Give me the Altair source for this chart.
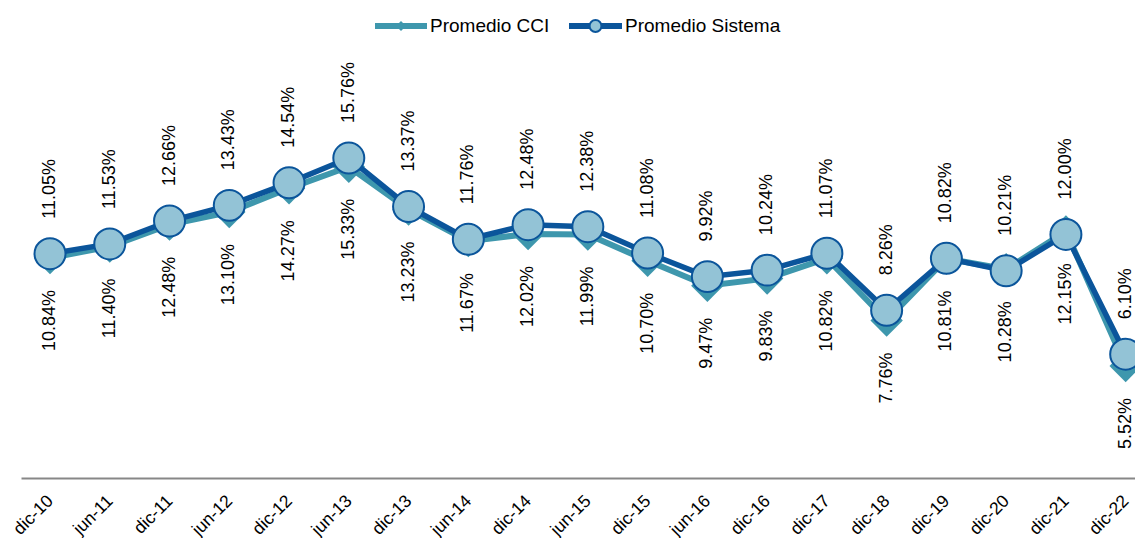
import json
import altair as alt
import pandas as pd

categories = ["dic-10", "jun-11", "dic-11", "jun-12", "dic-12", "jun-13", "dic-13",
              "jun-14", "dic-14", "jun-15", "dic-15", "jun-16", "dic-16", "dic-17",
              "dic-18", "dic-19", "dic-20", "dic-21", "dic-22"]
promedio_cci = [10.84, 11.40, 12.48, 13.10, 14.27, 15.33, 13.23, 11.67, 12.02, 11.99,
                10.70, 9.47, 9.83, 10.82, 7.76, 10.81, 10.28, 12.15, 5.52]
promedio_sistema = [11.05, 11.53, 12.66, 13.43, 14.54, 15.76, 13.37, 11.76, 12.48, 12.38,
                    11.08, 9.92, 10.24, 11.07, 8.26, 10.82, 10.21, 12.00, 6.10]
series_names = ["Promedio CCI", "Promedio Sistema"]

C_CCI = "#3e97ad"
C_SIS = "#0b559b"
C_FILL = "#93c3d6"
FONT = "Liberation Sans"

n = len(categories)
df = pd.DataFrame({
    "idx": list(range(n)),
    "cat": categories,
    "cci": promedio_cci,
    "sis": promedio_sistema,
})
df["cci_lbl"] = [f"{v:.2f}%" for v in promedio_cci]
df["sis_lbl"] = [f"{v:.2f}%" for v in promedio_sistema]

label_expr = json.dumps(categories) + "[datum.value]"
x_enc = alt.X(
    "idx:Q",
    scale=alt.Scale(domain=[-0.4853, 18.156], nice=False, zero=False),
    axis=alt.Axis(
        values=list(range(n)), labelExpr=label_expr, title=None, ticks=False,
        grid=False, labelAngle=-45, labelAlign="right", labelBaseline="middle",
        labelPadding=20, labelFont=FONT, labelFontSize=17.5, labelColor="#000000",
        domainColor="#878787", domainWidth=2, labelOverlap=False,
    ),
)
y_scale = alt.Scale(domain=[0, 20], nice=False, zero=True)

base = alt.Chart(df)

line_cci = base.mark_line(color=C_CCI, strokeWidth=6).encode(
    x=x_enc, y=alt.Y("cci:Q", scale=y_scale, axis=None))
pt_cci = base.mark_point(shape="diamond", filled=True, color=C_CCI, size=1050, opacity=1).encode(
    x=x_enc, y=alt.Y("cci:Q", scale=y_scale, axis=None))
line_sis = base.mark_line(color=C_SIS, strokeWidth=5.5).encode(
    x=x_enc, y=alt.Y("sis:Q", scale=y_scale, axis=None))
pt_sis = base.mark_point(shape="circle", filled=True, fill=C_FILL, stroke=C_SIS,
                         strokeWidth=2, size=960, opacity=1).encode(
    x=x_enc, y=alt.Y("sis:Q", scale=y_scale, axis=None))

txt_sis = base.mark_text(angle=270, align="left", baseline="middle", dx=35,
                         font=FONT, fontSize=18, color="#000000").encode(
    x=x_enc, y=alt.Y("sis:Q", scale=y_scale, axis=None), text="sis_lbl:N")
txt_cci = base.mark_text(angle=270, align="right", baseline="middle", dx=-32,
                         font=FONT, fontSize=18, color="#000000").encode(
    x=x_enc, y=alt.Y("cci:Q", scale=y_scale, axis=None), text="cci_lbl:N")

# manual legend
leg_df = pd.DataFrame({"name": series_names})
leg_cci = leg_df.iloc[[0]]
leg_sis = leg_df.iloc[[1]]
LY = -46
leg_line_cci = alt.Chart(leg_cci).mark_rule(color=C_CCI, strokeWidth=6).encode(
    x=alt.value(354), x2=alt.value(406), y=alt.value(LY))
leg_pt_cci = alt.Chart(leg_cci).mark_point(shape="diamond", filled=True, color=C_CCI,
                                           size=100, opacity=1).encode(
    x=alt.value(380), y=alt.value(LY))
leg_txt_cci = alt.Chart(leg_cci).mark_text(align="left", baseline="middle", font=FONT,
                                           fontSize=19, color="#000000").encode(
    x=alt.value(409), y=alt.value(LY), text="name:N")
leg_line_sis = alt.Chart(leg_sis).mark_rule(color=C_SIS, strokeWidth=6).encode(
    x=alt.value(548), x2=alt.value(601), y=alt.value(LY))
leg_pt_sis = alt.Chart(leg_sis).mark_point(shape="circle", filled=True, fill=C_FILL,
                                           stroke=C_SIS, strokeWidth=2, size=140,
                                           opacity=1).encode(
    x=alt.value(574.5), y=alt.value(LY))
leg_txt_sis = alt.Chart(leg_sis).mark_text(align="left", baseline="middle", font=FONT,
                                           fontSize=19, color="#000000").encode(
    x=alt.value(604), y=alt.value(LY), text="name:N")

chart = alt.layer(
    line_cci, pt_cci, line_sis, pt_sis, txt_sis, txt_cci,
    leg_line_cci, leg_pt_cci, leg_txt_cci, leg_line_sis, leg_pt_sis, leg_txt_sis,
).properties(
    width=1114, height=406,
    padding={"left": 13, "top": 64, "right": 0, "bottom": 60},
    autosize=alt.AutoSizeParams(type="none"),
).configure_view(stroke=None)

chart.save("out.html", embed_options={"renderer": "svg", "actions": False})
